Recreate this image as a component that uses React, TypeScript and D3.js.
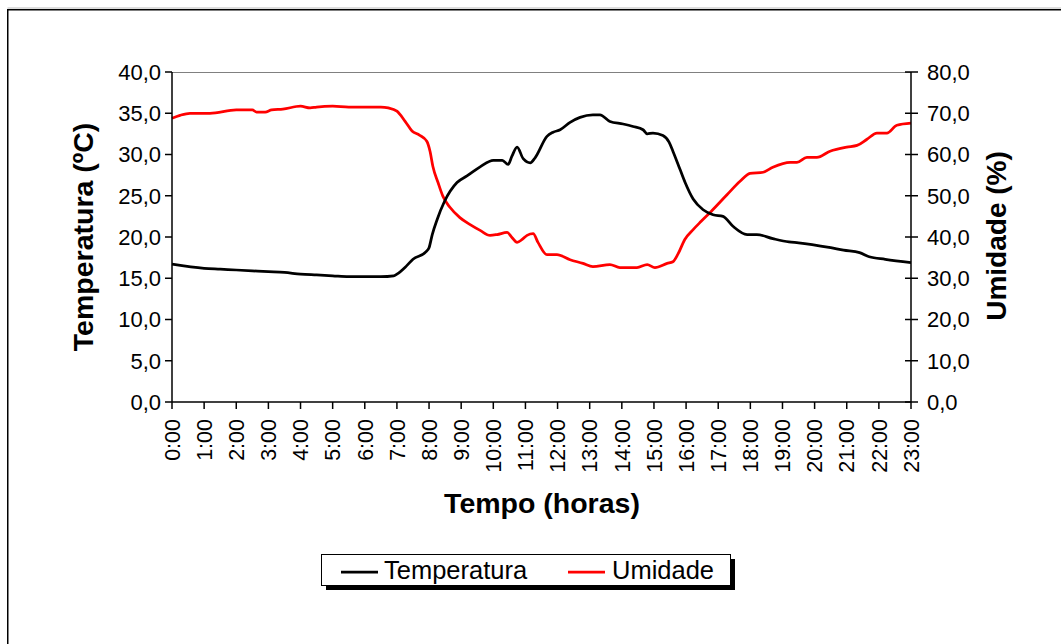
import React from "react";
import * as d3 from "d3";

const hourLabels = ["0:00","1:00","2:00","3:00","4:00","5:00","6:00","7:00","8:00","9:00","10:00","11:00","12:00","13:00","14:00","15:00","16:00","17:00","18:00","19:00","20:00","21:00","22:00","23:00"];

const tempTimes = [0,1,1.5,2,2.5,3,3.5,4,4.5,5,5.5,6,6.5,6.9,7.0,7.3,7.5,7.9,8.0,8.1,8.25,8.48,8.87,9.18,9.59,10.0,10.28,10.46,10.58,10.74,10.93,11.15,11.3,11.67,11.86,12.08,12.39,12.7,13.1,13.32,13.63,14.04,14.35,14.66,14.79,14.97,15.28,15.47,15.59,15.81,15.97,16.22,16.53,16.84,17.15,17.46,17.9,18.2,18.7,19.2,19.5,20.5,20.9,21.4,21.7,22.2,23.0];
const tempValues = [16.7,16.2,16.1,16.0,15.9,15.8,15.7,15.5,15.4,15.3,15.2,15.2,15.2,15.3,15.5,16.5,17.3,18.2,18.7,20.3,22.1,24.3,26.6,27.4,28.5,29.3,29.3,28.8,29.8,30.9,29.5,29.0,29.6,32.2,32.7,33.0,33.9,34.5,34.8,34.8,34.0,33.7,33.4,33.0,32.5,32.6,32.3,31.5,30.4,28.2,26.6,24.6,23.3,22.7,22.5,21.3,20.3,20.3,19.8,19.4,19.3,18.7,18.4,18.1,17.6,17.3,16.9];

const humTimes = [0,0.25,0.56,1.18,2.0,2.5,2.63,2.9,3.1,3.45,4.0,4.3,4.5,5.0,5.5,6.0,6.5,6.73,7.0,7.25,7.47,7.7,7.93,8.03,8.12,8.28,8.43,8.65,8.96,9.28,9.59,9.9,10.12,10.43,10.58,10.74,10.9,11.05,11.24,11.39,11.67,11.98,12.39,12.79,13.1,13.63,13.94,14.47,14.79,15.03,15.41,15.59,15.75,15.96,16.22,16.47,16.78,17.28,17.68,17.99,18.4,18.7,19.24,19.45,19.76,20.07,20.48,21.0,21.32,21.63,21.94,22.25,22.56,23.0];
const humValues = [68.8,69.5,70.0,70.0,70.8,70.8,70.3,70.3,70.8,71.0,71.7,71.3,71.5,71.7,71.5,71.5,71.5,71.3,70.5,68.1,65.7,64.7,63.2,60.8,57.1,53.2,49.9,47.2,44.7,43.0,41.6,40.4,40.6,41.1,39.9,38.7,39.4,40.4,40.8,38.7,35.7,35.7,34.5,33.6,32.8,33.3,32.6,32.6,33.3,32.6,33.6,34.0,35.9,39.4,41.8,43.8,46.2,50.3,53.5,55.4,55.7,56.9,58.1,58.1,59.3,59.3,60.8,61.8,62.2,63.7,65.2,65.2,67.1,67.6];

const leftTicks = [0,5,10,15,20,25,30,35,40];
const rightTicks = [0,10,20,30,40,50,60,70,80];

const fmt = (v: number) => v.toFixed(1).replace(".", ",");

export default function App() {
  const x0 = 172, x1 = 911, y0 = 402, y1 = 72;
  const x = d3.scaleLinear().domain([0, 23]).range([x0, x1]);
  const yL = d3.scaleLinear().domain([0, 40]).range([y0, y1]);
  const yR = d3.scaleLinear().domain([0, 80]).range([y0, y1]);

  const tempLine = d3.line<number>()
    .x((_, i) => x(tempTimes[i]))
    .y((d) => yL(d))
    .curve(d3.curveMonotoneX);
  const humLine = d3.line<number>()
    .x((_, i) => x(humTimes[i]))
    .y((d) => yR(d))
    .curve(d3.curveMonotoneX);

  const font = "Arial, 'Liberation Sans', sans-serif";

  return (
    <svg width={1061} height={644} style={{ position: "absolute", left: 0, top: 0, background: "#fff" }} fontFamily={font}>
      <rect x={0} y={0} width={1061} height={644} fill="#fff" />
      <line x1={7.5} y1={8} x2={1061} y2={8} stroke="#bbb" strokeWidth={1} />
      <rect x={7.75} y={9.75} width={1100} height={700} fill="none" stroke="#000" strokeWidth={1.5} />

      {/* plot top border */}
      <line x1={x0} y1={y1 + 0.5} x2={x1} y2={y1 + 0.5} stroke="#808080" strokeWidth={1} />

      {/* series */}
      <path d={humLine(humValues) || ""} fill="none" stroke="#ff0000" strokeWidth={2.75} strokeLinejoin="round" />
      <path d={tempLine(tempValues) || ""} fill="none" stroke="#000" strokeWidth={2.75} strokeLinejoin="round" />

      {/* left axis */}
      <line x1={x0} y1={y1} x2={x0} y2={y0} stroke="#000" strokeWidth={1.5} />
      {leftTicks.map((t) => (
        <g key={"l" + t}>
          <line x1={x0 - 7} x2={x0} y1={yL(t)} y2={yL(t)} stroke="#000" strokeWidth={1.5} />
          <text x={161} y={yL(t)} dy="0.36em" textAnchor="end" fontSize={22} fill="#000">{fmt(t)}</text>
        </g>
      ))}

      {/* right axis */}
      <line x1={x1} y1={y1} x2={x1} y2={y0} stroke="#000" strokeWidth={1.5} />
      {rightTicks.map((t) => (
        <g key={"r" + t}>
          <line x1={x1 - 6} x2={x1 + 7} y1={yR(t)} y2={yR(t)} stroke="#000" strokeWidth={1.5} />
          <text x={927} y={yR(t)} dy="0.36em" textAnchor="start" fontSize={22} fill="#000">{fmt(t)}</text>
        </g>
      ))}

      {/* bottom axis */}
      <line x1={x0} y1={y0} x2={x1} y2={y0} stroke="#000" strokeWidth={1.5} />
      {hourLabels.map((lab, i) => (
        <g key={lab}>
          <line x1={x(i)} x2={x(i)} y1={y0} y2={y0 + 7} stroke="#000" strokeWidth={1.5} />
          <text transform={`translate(${x(i)},419) rotate(-90)`} dy="0.36em" textAnchor="end" fontSize={21.5} fill="#000">{lab}</text>
        </g>
      ))}

      {/* axis titles */}
      <text transform="translate(93,237) rotate(-90)" textAnchor="middle" fontSize={28.5} fontWeight="bold" fill="#000">Temperatura (ºC)</text>
      <text transform="translate(1006,236) rotate(-90)" textAnchor="middle" fontSize={28} fontWeight="bold" fill="#000">Umidade (%)</text>
      <text x={542} y={513} textAnchor="middle" fontSize={28.5} fontWeight="bold" fill="#000">Tempo (horas)</text>

      {/* legend */}
      <rect x={326} y={559} width={409} height={31} fill="#000" />
      <rect x={321.5} y={554.5} width={409} height={31} fill="#fff" stroke="#000" strokeWidth={1} />
      <line x1={341} x2={378} y1={572} y2={572} stroke="#000" strokeWidth={2.75} />
      <text x={384} y={579} fontSize={25.5} fill="#000">Temperatura</text>
      <line x1={568} x2={605} y1={572} y2={572} stroke="#ff0000" strokeWidth={2.75} />
      <text x={612} y={579} fontSize={25.5} fill="#000">Umidade</text>
    </svg>
  );
}
